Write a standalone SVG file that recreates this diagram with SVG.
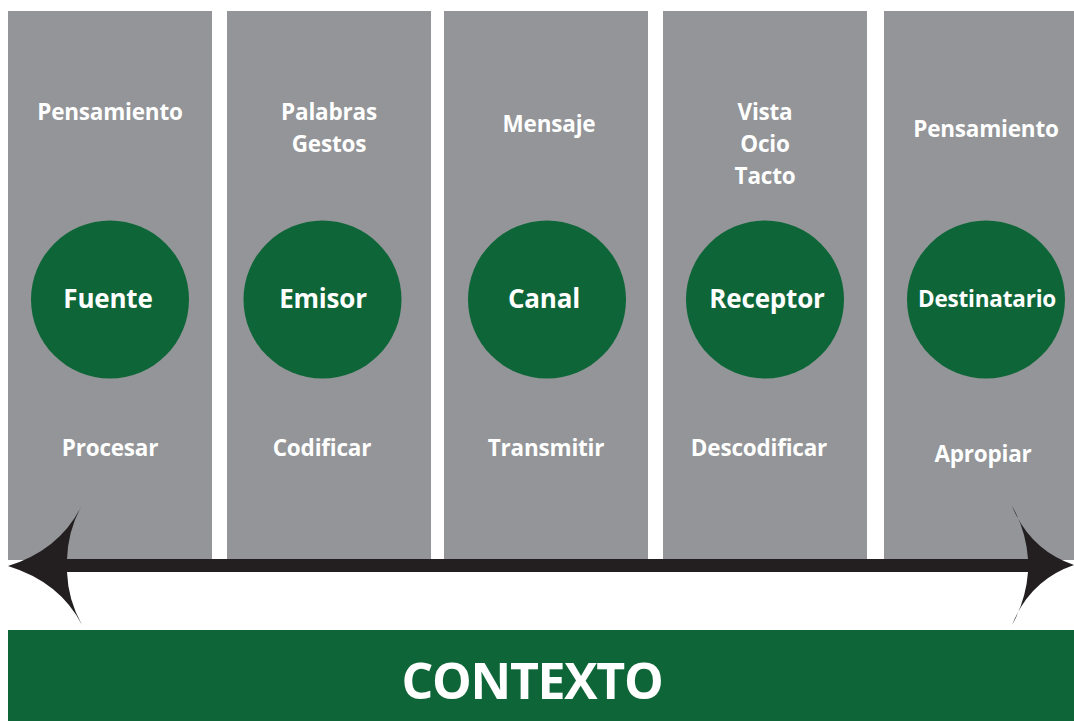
<svg xmlns="http://www.w3.org/2000/svg" width="1074" height="721" viewBox="0 0 1074 721">
<style>
.col{fill:#939598}
.node{fill:#0e6638}
.t{font-family:"Open Sans","Liberation Sans",sans-serif;font-weight:700;fill:#ffffff;text-anchor:middle}
.s{font-size:22.5px;letter-spacing:-0.2px}
.c{font-size:26px;letter-spacing:-0.2px}
</style>
<rect width="1074" height="721" fill="#ffffff"/>
<g id="columns">
<rect class="col" x="8" y="11" width="204" height="549"/>
<rect class="col" x="227" y="11" width="204" height="549"/>
<rect class="col" x="444" y="11" width="204" height="549"/>
<rect class="col" x="663" y="11" width="204" height="549"/>
<rect class="col" x="884" y="11" width="190" height="549"/>
</g>
<g id="fuente">
<text class="t s" x="110" y="120">Pensamiento</text>
<circle class="node" cx="110" cy="299.5" r="79"/>
<text class="t c" x="108" y="308">Fuente</text>
<text class="t s" x="110" y="456">Procesar</text>
</g>
<g id="emisor">
<text class="t s" x="329" y="120">Palabras</text>
<text class="t s" x="329" y="152">Gestos</text>
<circle class="node" cx="322.5" cy="299.5" r="79"/>
<text class="t c" x="323" y="308">Emisor</text>
<text class="t s" x="322" y="456">Codificar</text>
</g>
<g id="canal">
<text class="t s" x="549" y="132">Mensaje</text>
<circle class="node" cx="547" cy="299.5" r="79"/>
<text class="t c" x="544" y="308">Canal</text>
<text class="t s" x="546" y="456">Transmitir</text>
</g>
<g id="receptor">
<text class="t s" x="765" y="120">Vista</text>
<text class="t s" x="765" y="152">Ocio</text>
<text class="t s" x="765" y="184">Tacto</text>
<circle class="node" cx="765" cy="299.5" r="79"/>
<text class="t c" x="767" y="308">Receptor</text>
<text class="t s" x="759" y="456">Descodificar</text>
</g>
<g id="destinatario">
<text class="t s" x="986" y="137">Pensamiento</text>
<circle class="node" cx="986" cy="299.5" r="79"/>
<text class="t" style="font-size:22.5px;letter-spacing:-0.2px" x="987" y="307">Destinatario</text>
<text class="t s" x="983" y="462">Apropiar</text>
</g>
<g id="connectors">
<path fill="#231f20" d="M8,566 Q60,550 82,505 Q68,530 67,559 L1028,559 Q1026,530 1012,506 Q1030,550 1074,565 Q1030,580 1012,625 Q1026,600 1028,572 L67,572 Q68,600 82,625 Q60,582 8,566 Z"/>
</g>
<g id="contexto">
<rect class="node" x="8" y="630" width="1066" height="91"/>
<text class="t" style="font-size:50px;letter-spacing:-1.3px" x="532" y="699">CONTEXTO</text>
</g>
</svg>
